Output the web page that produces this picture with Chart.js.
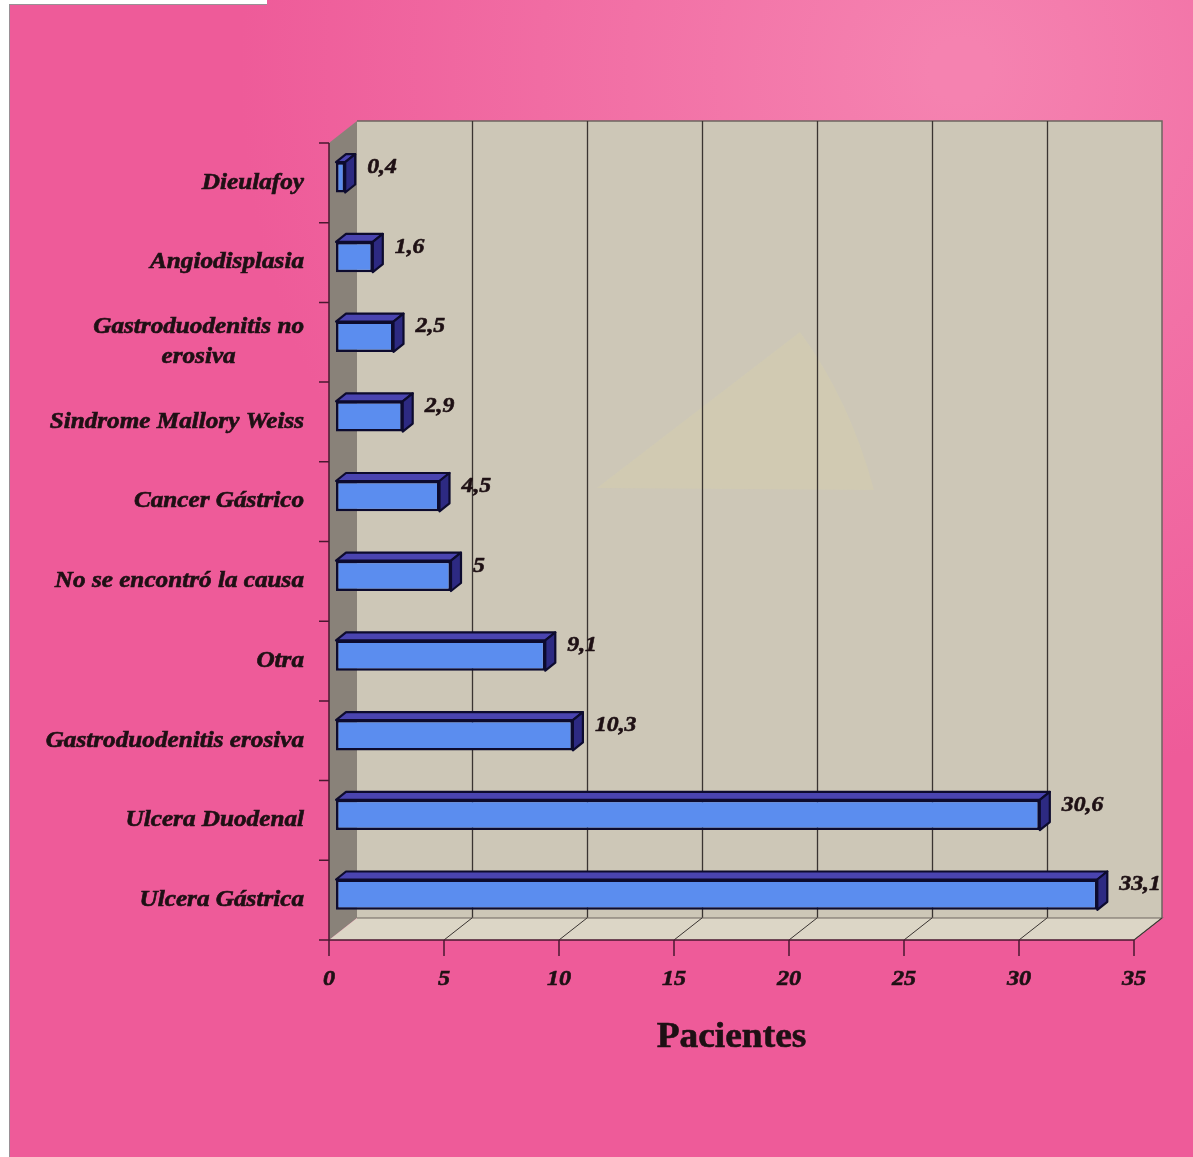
<!DOCTYPE html>
<html lang="es">
<head>
<meta charset="utf-8">
<title>Pacientes</title>
<script src="https://cdn.jsdelivr.net/npm/chart.js@4.4.1/dist/chart.umd.min.js"></script>
<style>
  html, body { margin: 0; padding: 0; background: #fff; }
  #wrap { width: 1193px; height: 1157px; }
</style>
</head>
<body>
<div id="wrap"><canvas id="chart" width="1193" height="1157"></canvas></div>
<script>
const categories = [
  'Dieulafoy',
  'Angiodisplasia',
  ['Gastroduodenitis no', 'erosiva'],
  'Sindrome Mallory Weiss',
  'Cancer Gástrico',
  'No se encontró la causa',
  'Otra',
  'Gastroduodenitis erosiva',
  'Ulcera Duodenal',
  'Ulcera Gástrica'
];
const values = [0.4, 1.6, 2.5, 2.9, 4.5, 5, 9.1, 10.3, 30.6, 33.1];
const xTicks = [0, 5, 10, 15, 20, 25, 30, 35];
const axisTitle = 'Pacientes';

const Theme = {
  font: '"Liberation Serif", "Times New Roman", serif',
  pink: '#ee5b99',
  pinkLight: '#f582b0',
  wall: '#cdc7b7',
  sideWall: '#898279',
  floor: '#dcd6c6',
  grid: '#3a3431',
  ink: '#1e1014',
  barFront: '#5b8def',
  barTop: '#4a44b0',
  barSide: '#2d2a82',
  barEdge: '#0d0b2e'
};

// offsets from the plane that holds the bar fronts
const Depth = {
  front: { dx: -7, dy: 5.5 },
  back: { dx: 21, dy: -16.5 },
  bar: { dx: 10, dy: -8 }
};

function poly(ctx, pts) {
  ctx.beginPath();
  ctx.moveTo(pts[0][0], pts[0][1]);
  for (let i = 1; i < pts.length; i++) ctx.lineTo(pts[i][0], pts[i][1]);
  ctx.closePath();
}

// bold text, slightly widened, with a thin outline so it reads heavier
function label(ctx, text, x, y, stretch) {
  ctx.save();
  ctx.translate(x, y);
  ctx.scale(stretch, 1);
  ctx.lineWidth = 0.6;
  ctx.strokeStyle = Theme.ink;
  ctx.strokeText(text, 0, 0);
  ctx.fillText(text, 0, 0);
  ctx.restore();
}

const scenePlugin = {
  id: 'scene',

  beforeDraw(chart) {
    const { ctx, width, height } = chart;
    ctx.save();
    ctx.fillStyle = '#fff';
    ctx.fillRect(0, 0, width, height);
    const g = ctx.createRadialGradient(960, 70, 30, 960, 70, 720);
    g.addColorStop(0, Theme.pinkLight);
    g.addColorStop(1, Theme.pink);
    ctx.fillStyle = g;
    ctx.fillRect(9, 0, width - 9, height);
    ctx.fillStyle = '#fff';
    ctx.fillRect(9, 0, 258, 4);
    ctx.strokeStyle = '#9a8f95';
    ctx.lineWidth = 1;
    ctx.beginPath();
    ctx.moveTo(9.5, 4); ctx.lineTo(9.5, height);
    ctx.moveTo(9, 4.5); ctx.lineTo(267, 4.5);
    ctx.stroke();
    ctx.restore();
  },

  beforeDatasetsDraw(chart) {
    const { ctx, chartArea: a, scales: { x } } = chart;
    const f = Depth.front, b = Depth.back;
    const L = x.getPixelForValue(x.min);
    const R = x.getPixelForValue(x.max);
    ctx.save();

    // back wall
    ctx.fillStyle = Theme.wall;
    ctx.fillRect(L + b.dx, a.top + b.dy, R - L, a.bottom - a.top);
    // faint wedge in the wall texture
    ctx.fillStyle = 'rgba(240, 228, 150, 0.12)';
    ctx.beginPath();
    ctx.moveTo(597, 488);
    ctx.lineTo(800, 332);
    ctx.quadraticCurveTo(850, 400, 874, 490);
    ctx.closePath();
    ctx.fill();

    ctx.strokeStyle = '#6e6660';
    ctx.lineWidth = 1.5;
    ctx.beginPath();
    ctx.moveTo(L + b.dx, a.top + b.dy);
    ctx.lineTo(R + b.dx, a.top + b.dy);
    ctx.lineTo(R + b.dx, a.bottom + b.dy);
    ctx.stroke();

    // grid on the back wall
    ctx.strokeStyle = Theme.grid;
    ctx.lineWidth = 1.3;
    xTicks.slice(1, -1).forEach(v => {
      const px = Math.round(x.getPixelForValue(v) + b.dx) + 0.5;
      ctx.beginPath();
      ctx.moveTo(px, a.top + b.dy);
      ctx.lineTo(px, a.bottom + b.dy);
      ctx.stroke();
    });

    // side wall and floor
    ctx.fillStyle = Theme.sideWall;
    poly(ctx, [
      [L + f.dx, a.top + f.dy], [L + b.dx, a.top + b.dy],
      [L + b.dx, a.bottom + b.dy], [L + f.dx, a.bottom + f.dy]
    ]);
    ctx.fill();

    ctx.fillStyle = Theme.floor;
    poly(ctx, [
      [L + f.dx, a.bottom + f.dy], [L + b.dx, a.bottom + b.dy],
      [R + b.dx, a.bottom + b.dy], [R + f.dx, a.bottom + f.dy]
    ]);
    ctx.fill();
    ctx.strokeStyle = '#6e6660';
    ctx.lineWidth = 1.2;
    ctx.beginPath();
    ctx.moveTo(L + b.dx, a.bottom + b.dy);
    ctx.lineTo(R + b.dx, a.bottom + b.dy);
    ctx.lineTo(R + f.dx, a.bottom + f.dy);
    ctx.stroke();

    ctx.strokeStyle = Theme.grid;
    ctx.lineWidth = 1;
    xTicks.slice(1).forEach(v => {
      const px = x.getPixelForValue(v);
      ctx.beginPath();
      ctx.moveTo(px + f.dx, a.bottom + f.dy);
      ctx.lineTo(px + b.dx, a.bottom + b.dy);
      ctx.stroke();
    });

    // front axes and tick marks
    const x0 = L + f.dx, yb = a.bottom + f.dy;
    const row = (a.bottom - a.top) / categories.length;
    ctx.strokeStyle = '#4a1830';
    ctx.lineWidth = 1.5;
    ctx.beginPath();
    ctx.moveTo(x0, a.top + f.dy);
    ctx.lineTo(x0, yb);
    ctx.moveTo(x0 - 10, yb);
    ctx.lineTo(R + f.dx, yb);
    for (let k = 0; k < categories.length; k++) {
      const ty = a.top + f.dy + k * row;
      ctx.moveTo(x0 - 10, ty);
      ctx.lineTo(x0, ty);
    }
    xTicks.forEach(v => {
      const px = x.getPixelForValue(v) + f.dx;
      ctx.moveTo(px, yb);
      ctx.lineTo(px, yb + 16);
    });
    ctx.stroke();

    // x tick labels
    ctx.fillStyle = Theme.ink;
    ctx.font = `italic bold 22px ${Theme.font}`;
    ctx.textAlign = 'center';
    ctx.textBaseline = 'middle';
    xTicks.forEach(v => {
      label(ctx, String(v), x.getPixelForValue(v) + f.dx, yb + 39, 1.1);
    });

    // category labels, each block right aligned, lines centred within it
    const stretch = 1.12;
    ctx.font = `italic bold 22.5px ${Theme.font}`;
    const rightEdge = x0 - 25;
    categories.forEach((text, i) => {
      const lines = Array.isArray(text) ? text : [text];
      const w = Math.max(...lines.map(s => ctx.measureText(s).width)) * stretch;
      const cy = a.top + f.dy + (i + 0.5) * row;
      const lh = 30;
      lines.forEach((s, j) => {
        const ly = cy + (j - (lines.length - 1) / 2) * lh;
        label(ctx, s, rightEdge - w / 2, ly, stretch);
      });
    });

    // axis title
    ctx.font = `bold 36px ${Theme.font}`;
    label(ctx, axisTitle, (L + R) / 2 + f.dx, yb + 98, 1.04);

    ctx.restore();
  },

  afterDatasetsDraw(chart) {
    const { ctx } = chart;
    const d = Depth.bar;
    const meta = chart.getDatasetMeta(0);
    ctx.save();
    ctx.lineJoin = 'round';
    meta.data.forEach((bar, i) => {
      const { x, y, base, height } = bar.getProps(['x', 'y', 'base', 'height'], true);
      const top = y - height / 2, bot = y + height / 2;
      ctx.lineWidth = 2.2;
      ctx.strokeStyle = Theme.barEdge;

      ctx.fillStyle = Theme.barTop;
      poly(ctx, [[base, top], [base + d.dx, top + d.dy], [x + d.dx, top + d.dy], [x, top]]);
      ctx.fill();
      ctx.stroke();

      ctx.fillStyle = Theme.barSide;
      poly(ctx, [[x, top], [x + d.dx, top + d.dy], [x + d.dx, bot + d.dy], [x, bot]]);
      ctx.fill();
      ctx.stroke();

      // value label
      ctx.fillStyle = Theme.ink;
      ctx.font = `italic bold 22px ${Theme.font}`;
      ctx.textAlign = 'left';
      ctx.textBaseline = 'middle';
      label(ctx, String(values[i]).replace('.', ','), x + d.dx + 12, y - 10, 1.08);
    });
    ctx.restore();
  }
};

new Chart(document.getElementById('chart'), {
  type: 'bar',
  data: {
    labels: categories,
    datasets: [{
      data: values,
      backgroundColor: Theme.barFront,
      borderColor: Theme.barEdge,
      borderWidth: 2.5,
      borderSkipped: false,
      barPercentage: 0.38,
      categoryPercentage: 1
    }]
  },
  options: {
    indexAxis: 'y',
    responsive: false,
    animation: false,
    devicePixelRatio: 1,
    layout: { padding: { left: 336, right: 52, top: 137.5, bottom: 222.5 } },
    scales: {
      x: { display: false, min: 0, max: 35 },
      y: { display: false }
    },
    plugins: {
      legend: { display: false },
      tooltip: { enabled: false }
    }
  },
  plugins: [scenePlugin]
});
</script>
</body>
</html>
